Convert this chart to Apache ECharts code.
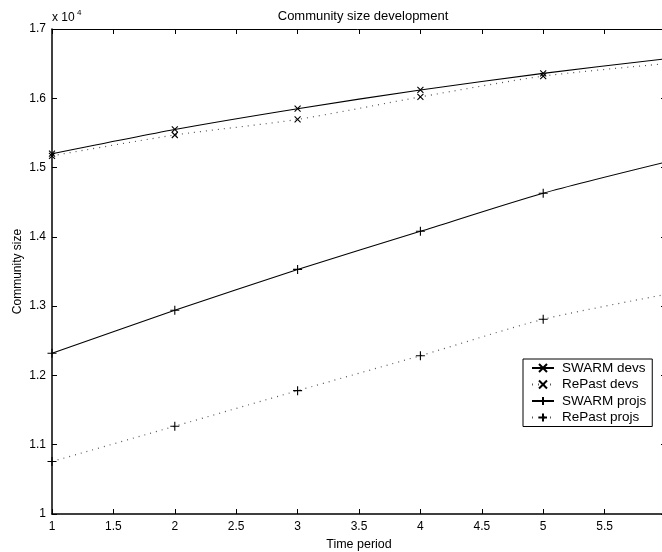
<!DOCTYPE html>
<html>
<head>
<meta charset="utf-8">
<script src="https://cdn.jsdelivr.net/npm/echarts@6/dist/echarts.min.js"></script>
<style>html,body{margin:0;padding:0;background:#fff;}#c{width:662px;height:552px;}</style>
</head>
<body>
<div id="c"></div>
<script>
var timePeriods = [1, 2, 3, 4, 5, 6];
var swarmDevs   = [1.520, 1.555, 1.585, 1.612, 1.636, 1.657];
var repastDevs  = [1.517, 1.547, 1.5695, 1.602, 1.632, 1.650];
var swarmProjs  = [1.232, 1.294, 1.353, 1.408, 1.463, 1.508];
var repastProjs = [1.0757, 1.1267, 1.178, 1.2285, 1.281, 1.317];
var seriesNames = ['SWARM devs', 'RePast devs', 'SWARM projs', 'RePast projs'];
var xTicks = [1, 1.5, 2, 2.5, 3, 3.5, 4, 4.5, 5, 5.5, 6];
var yTicks = [1, 1.1, 1.2, 1.3, 1.4, 1.5, 1.6, 1.7];

var FONT = 'Liberation Sans, Arial, Helvetica, sans-serif';
var X_SYM = 'path://M0,0L10,10M10,0L0,10';
var P_SYM = 'path://M5,0L5,10M0,5L10,5';

function pts(vals) {
  return timePeriods.map(function (t, i) {
    var d = { value: [t, vals[i]] };
    if (i === timePeriods.length - 1) d.symbol = 'none';
    return d;
  });
}
function mk(name, vals, dotted, sym, size) {
  return {
    name: name, type: 'line', data: pts(vals), smooth: 0.25,
    symbol: sym, symbolSize: size, showSymbol: true,
    lineStyle: { color: dotted ? '#555' : '#000', width: dotted ? 1.2 : 1.1, type: dotted ? [1, 5] : 'solid' },
    itemStyle: { color: 'rgba(0,0,0,0)', borderColor: '#000', borderWidth: 1.1 },
    emphasis: { disabled: true }, animation: false, z: 3
  };
}

var chart = echarts.init(document.getElementById('c'), null, { renderer: 'canvas' });
var axisCommon = {
  type: 'value',
  axisLine: { show: true, lineStyle: { color: '#000', width: 1 } },
  axisTick: { show: true, inside: true, length: 5, lineStyle: { color: '#000', width: 1 } },
  splitLine: { show: false }
};
chart.setOption({
  backgroundColor: '#fff',
  animation: false,
  title: {
    text: 'Community size development', left: 358, textAlign: 'center', top: 5,
    textStyle: { fontFamily: FONT, fontSize: 13, fontWeight: 'normal', color: '#000' }
  },
  grid: { left: 52, top: 29, bottom: 38, right: -4, containLabel: false, outerBoundsMode: 'none' },
  xAxis: [
    Object.assign({}, axisCommon, {
      min: 1, max: 6, interval: 0.5, position: 'bottom',
      name: 'Time period', nameLocation: 'middle', nameGap: 24,
      nameTextStyle: { fontFamily: FONT, fontSize: 12.5, color: '#000' },
      axisLine: { show: true, onZero: false, lineStyle: { color: '#000', width: 1.5 } },
      axisLabel: { fontFamily: FONT, fontSize: 12, color: '#000', margin: 7, showMaxLabel: false,
        formatter: function (v) { return xTicks.indexOf(v) >= 0 ? String(v) : ''; } }
    }),
    Object.assign({}, axisCommon, {
      min: 1, max: 6, interval: 0.5, position: 'top',
      axisLine: { show: true, onZero: false, lineStyle: { color: '#000', width: 1 } },
      axisLabel: { show: false }
    })
  ],
  yAxis: [
    Object.assign({}, axisCommon, {
      min: 1, max: 1.7, interval: 0.1, position: 'left',
      name: 'Community size', nameLocation: 'middle', nameGap: 28, nameMoveOverlap: false,
      nameTextStyle: { fontFamily: FONT, fontSize: 12, color: '#000' },
      axisLine: { show: true, onZero: false, lineStyle: { color: '#000', width: 1.5 } },
      axisLabel: { fontFamily: FONT, fontSize: 12, color: '#000', margin: 6,
        formatter: function (v) {
          var r = Math.round(v * 10) / 10;
          return yTicks.indexOf(r) >= 0 ? String(r) : '';
        } }
    }),
    Object.assign({}, axisCommon, {
      min: 1, max: 1.7, interval: 0.1, position: 'right',
      axisLine: { show: true, onZero: false, lineStyle: { color: '#000', width: 1 } },
      axisLabel: { show: false }
    })
  ],
  legend: {
    orient: 'vertical', left: 523, top: 359,
    data: seriesNames,
    itemWidth: 22, itemHeight: 10, itemGap: 2.5,
    padding: [2, 6, 2, 8],
    borderColor: '#000', borderWidth: 1, backgroundColor: '#fff',
    textStyle: { fontFamily: FONT, fontSize: 13.5, color: '#000', lineHeight: 14, padding: [0, 0, 0, 3] },
    selectedMode: false, z: 10
  },
  graphic: [
    { type: 'text', left: 52, top: 12, style: { text: 'x 10', font: '12px ' + FONT, fill: '#000' } },
    { type: 'text', left: 77, top: 9, style: { text: '4', font: '8px ' + FONT, fill: '#000' } }
  ],
  series: [
    mk(seriesNames[0], swarmDevs, false, X_SYM, 6),
    mk(seriesNames[1], repastDevs, true, X_SYM, 6),
    mk(seriesNames[2], swarmProjs, false, P_SYM, 9),
    mk(seriesNames[3], repastProjs, true, P_SYM, 9)
  ]
});
</script>
</body>
</html>
